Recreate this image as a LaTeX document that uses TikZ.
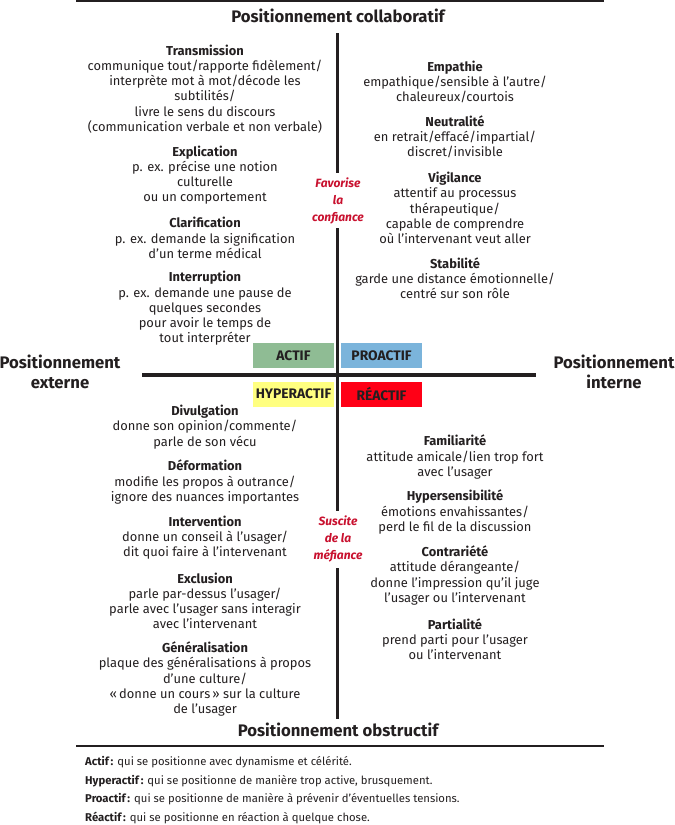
\documentclass[tikz,border=0pt]{standalone}
\usepackage{fontspec}
\setmainfont{Fira Sans}
\definecolor{ink}{HTML}{231F20}
\definecolor{crim}{HTML}{C8102E}
\definecolor{cactif}{HTML}{8FBC94}
\definecolor{cpro}{HTML}{7BB4DB}
\definecolor{chyper}{HTML}{FFFF80}
\definecolor{creac}{HTML}{FF0016}
\begin{document}
\begin{tikzpicture}[x=1pt,y=-1pt,
  every node/.style={inner sep=0pt, text=ink},
  item/.style={align=center, font=\fontsize{12.9}{15.2}\selectfont},
  head/.style={align=center, font=\fontsize{16.7}{20}\selectfont\bfseries},
  tag/.style={font=\fontsize{13.8}{15}\selectfont\bfseries, minimum width=81pt, minimum height=25pt},
  redlab/.style={align=center, text=crim, font=\fontsize{12}{17}\selectfont\bfseries\itshape},
  legend/.style={anchor=west, font=\fontsize{11.3}{13}\selectfont},
  axis/.style={line width=3.6pt, draw=ink},
  rule/.style={line width=1.2pt, draw=ink}]
\useasboundingbox (0,0) rectangle (675,825);

% rules
\coordinate (rtl) at (76,1);  \coordinate (rtr) at (604,1);
\coordinate (rbl) at (76,746); \coordinate (rbr) at (604,746);
\draw[rule] (rtl) -- (rtr);
\draw[rule] (rbl) -- (rbr);

% headings
\node[head] (collab) at (338,16) {Positionnement collaboratif};
\node[head] (obstr) at (338,730) {Positionnement obstructif};
\node[head] (ext) at (60,372) {Positionnement\\externe};
\node[head] (int) at (614,372) {Positionnement\\interne};

% red labels
\node[redlab] (fav) at (338,201) {Favorise\\la\\confiance};
\node[redlab] (susc) at (338,539) {Suscite\\de la\\méfiance};

% axes
\coordinate (v0) at (337.5,33);
\coordinate (v1) at (337.5,173);
\coordinate (v2) at (337.5,228);
\coordinate (v3) at (337.5,511);
\coordinate (v4) at (337.5,568);
\coordinate (v5) at (337.5,719);
\coordinate (h0) at (142,375);
\coordinate (h1) at (536,375);
\draw[axis] (v0) -- (v1);
\draw[axis] (v2) -- (v3);
\draw[axis] (v4) -- (v5);
\draw[axis] (h0) -- (h1);

% tags
\node[tag, fill=cactif] (actif) at (293.5,355.5) {ACTIF};
\node[tag, fill=cpro] (proactif) at (381.5,355.5) {PROACTIF};
\node[tag, fill=chyper] (hyper) at (293.5,394) {HYPERACTIF};
\node[tag, fill=creac] (reac) at (381.5,394) {RÉACTIF};

% upper left
\node[item] (transm) at (205,89) {\textbf{Transmission}\\communique tout/rapporte fidèlement/\\interprète mot à mot/décode les\\subtilités/\\livre le sens du discours\\(communication verbale et non verbale)};
\node[item] (expl) at (205,175) {\textbf{Explication}\\p. ex. précise une notion\\culturelle\\ou un comportement};
\node[item] (clar) at (205,238) {\textbf{Clarification}\\p. ex. demande la signification\\d’un terme médical};
\node[item] (interr) at (205,308.5) {\textbf{Interruption}\\p. ex. demande une pause de\\quelques secondes\\pour avoir le temps de\\tout interpréter};

% upper right
\node[item] (empa) at (455,82) {\textbf{Empathie}\\empathique/sensible à l’autre/\\chaleureux/courtois};
\node[item] (neut) at (455,137) {\textbf{Neutralité}\\en retrait/effacé/impartial/\\discret/invisible};
\node[item] (vigi) at (455,208) {\textbf{Vigilance}\\attentif au processus\\thérapeutique/\\capable de comprendre\\où l’intervenant veut aller};
\node[item] (stab) at (455,278) {\textbf{Stabilité}\\garde une distance émotionnelle/\\centré sur son rôle};

% lower left
\node[item] (divu) at (205,427) {\textbf{Divulgation}\\donne son opinion/commente/\\parle de son vécu};
\node[item] (defo) at (205,482) {\textbf{Déformation}\\modifie les propos à outrance/\\ignore des nuances importantes};
\node[item] (inter) at (205,537.5) {\textbf{Intervention}\\donne un conseil à l’usager/\\dit quoi faire à l’intervenant};
\node[item] (exclu) at (205,601) {\textbf{Exclusion}\\parle par-dessus l’usager/\\parle avec l’usager sans interagir\\avec l’intervenant};
\node[item] (gene) at (205,679) {\textbf{Généralisation}\\plaque des généralisations à propos\\d’une culture/\\«\,donne un cours\,» sur la culture\\de l’usager};

% lower right
\node[item] (fami) at (455,457) {\textbf{Familiarité}\\attitude amicale/lien trop fort\\avec l’usager};
\node[item] (hyps) at (455,512) {\textbf{Hypersensibilité}\\émotions envahissantes/\\perd le fil de la discussion};
\node[item] (contr) at (455,575.5) {\textbf{Contrariété}\\attitude dérangeante/\\donne l’impression qu’il juge\\l’usager ou l’intervenant};
\node[item] (parti) at (455,639) {\textbf{Partialité}\\prend parti pour l’usager\\ou l’intervenant};

% legend
\node[legend] (l1) at (85,762) {\textbf{Actif\,:} qui se positionne avec dynamisme et célérité.};
\node[legend] (l2) at (85,781) {\textbf{Hyperactif\,:} qui se positionne de manière trop active, brusquement.};
\node[legend] (l3) at (85,799.5) {\textbf{Proactif\,:} qui se positionne de manière à prévenir d’éventuelles tensions.};
\node[legend] (l4) at (85,818) {\textbf{Réactif\,:} qui se positionne en réaction à quelque chose.};
\end{tikzpicture}
\end{document}
